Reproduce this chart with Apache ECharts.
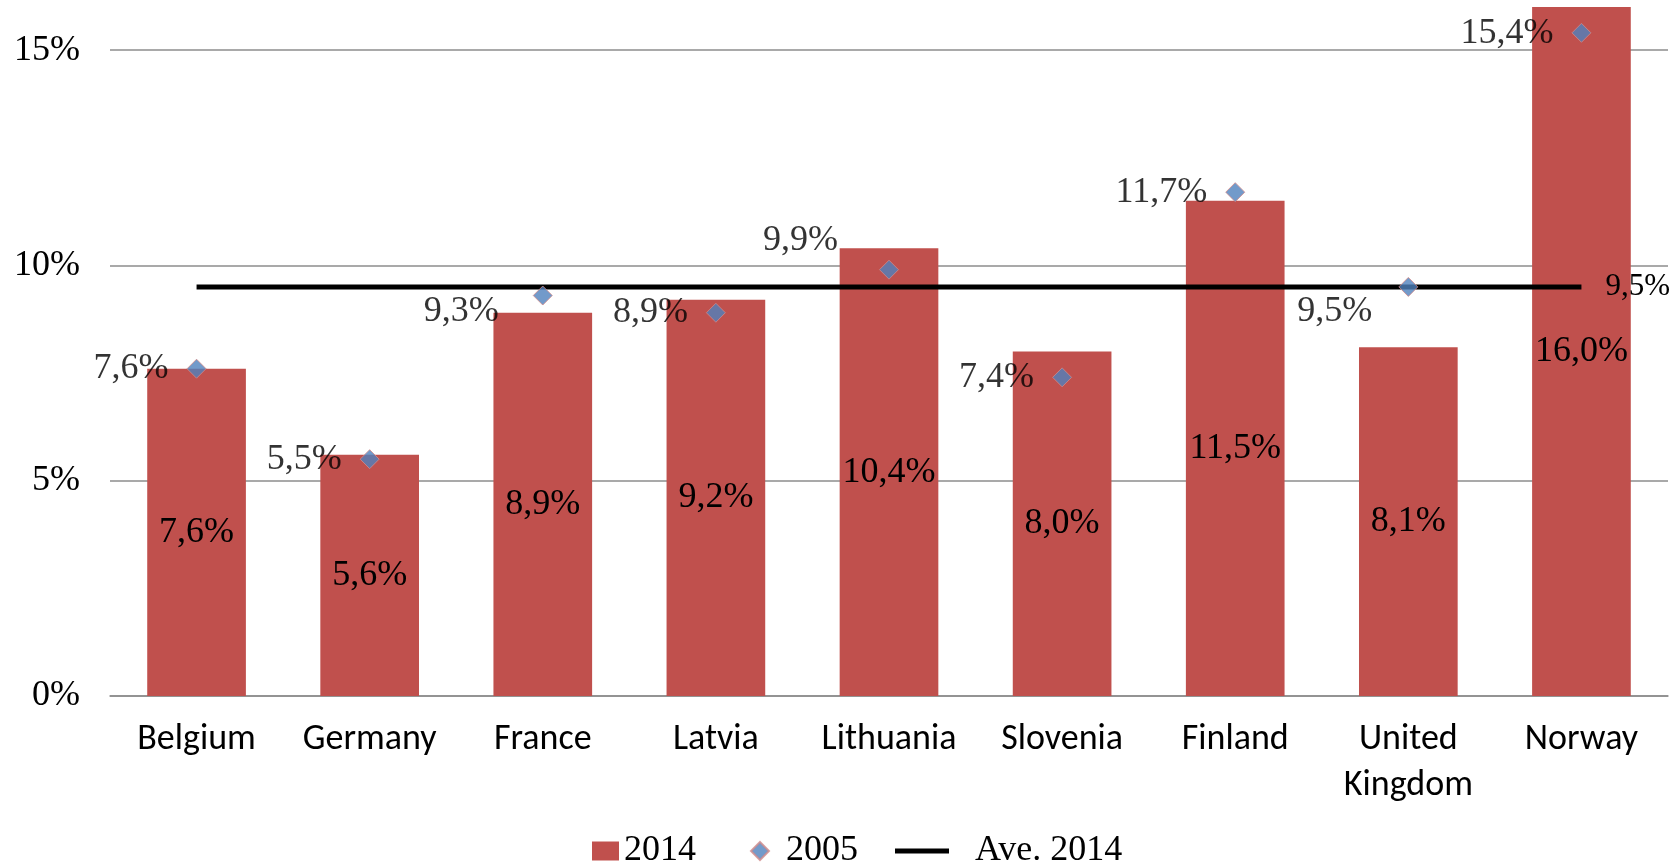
<!DOCTYPE html>
<html>
<head>
<meta charset="utf-8">
<script src="https://cdn.jsdelivr.net/npm/echarts@6/dist/echarts.min.js"></script>
<style>
html,body{margin:0;padding:0;background:#fff;}
#chart{width:1680px;height:862px;}
</style>
</head>
<body>
<div id="chart"></div>
<script>
const categories = ['Belgium','Germany','France','Latvia','Lithuania','Slovenia','Finland','United\nKingdom','Norway'];
const values2014 = [7.6, 5.6, 8.9, 9.2, 10.4, 8.0, 11.5, 8.1, 16.0];
const values2005 = [7.6, 5.5, 9.3, 8.9, 9.9, 7.4, 11.7, 9.5, 15.4];
const average2014 = [9.5, 9.5, 9.5, 9.5, 9.5, 9.5, 9.5, 9.5, 9.5];
const yTicks = [0, 5, 10, 15];

// label nudges for the 2005 labels (layout only)
const label2005Offsets = [[0,0],[0,0],[-16,16],[0,0],[-23,-29],[0,0],[0,0],[-8,25],[0,1]];

const serif = '"Liberation Serif","Times New Roman",serif';
const sans = 'Carlito, Lato, "Liberation Sans", sans-serif';
const fmt = v => v.toFixed(1).replace('.', ',') + '%';

const chart = echarts.init(document.getElementById('chart'), null, {renderer:'canvas'});

const legendText = {fontFamily: serif, fontSize: 36, color: '#000'};

chart.setOption({
  animation: false,
  backgroundColor: '#fff',
  grid: {left: 110, right: 12, top: 7, bottom: 166, containLabel: false},
  legend: [
    {data:[{name:'2014', icon:'rect'}], left: 587, top: 828, itemWidth: 27, itemHeight: 19,
     textStyle: Object.assign({padding:[0,0,0,0]}, legendText)},
    {data:[{name:'2005', icon:'diamond'}], left: 745, top: 828, itemWidth: 18, itemHeight: 18,
     textStyle: Object.assign({padding:[0,0,0,12]}, legendText)},
    {data:[{name:'Ave. 2014', icon:'rect'}], left: 890, top: 828, itemWidth: 54, itemHeight: 5,
     textStyle: Object.assign({padding:[0,0,0,21]}, legendText)}
  ],
  xAxis: {
    type: 'category',
    data: categories,
    boundaryGap: true,
    axisLine: {show: true, lineStyle: {color: '#8c8c8c', width: 1.5}},
    axisTick: {show: false},
    axisLabel: {fontFamily: sans, fontSize: 36, color: '#000', margin: 21, lineHeight: 46, interval: 0}
  },
  yAxis: {
    type: 'value',
    min: 0,
    max: 16,
    interval: 5,
    axisLine: {show: false},
    axisTick: {show: false},
    splitLine: {show: true, showMaxLine: false, lineStyle: {color: '#8c8c8c', width: 1.5}},
    axisLabel: {
      fontFamily: serif, fontSize: 36, color: '#000', margin: 30,
      showMaxLabel: false,
      formatter: v => (yTicks.indexOf(v) >= 0 ? v + '%' : '')
    }
  },
  series: [
    {
      name: '2014',
      type: 'bar',
      data: values2014,
      barWidth: '57%',
      itemStyle: {color: '#C0504D'},
      label: {show: true, position: 'inside', fontFamily: serif, fontSize: 36, color: '#000',
              formatter: p => fmt(p.value)},
      z: 2
    },
    {
      name: 'Ave. 2014',
      type: 'line',
      data: average2014,
      symbol: 'none',
      lineStyle: {color: '#000', width: 5},
      itemStyle: {color: '#000'},
      endLabel: {show: true, distance: 24, fontFamily: serif, fontSize: 31, color: '#000',
                 formatter: p => fmt(p.value)},
      z: 3
    },
    {
      name: '2005',
      type: 'scatter',
      symbol: 'diamond',
      symbolSize: 19,
      data: values2005.map((v, i) => ({
        value: v,
        label: {offset: label2005Offsets[i]}
      })),
      itemStyle: {color: '#4F81BD', borderColor: '#d08a8a', borderWidth: 1},
      label: {show: true, position: 'left', distance: 18, fontFamily: serif, fontSize: 36, color: '#000',
              formatter: p => fmt(p.value)},
      z: 4
    }
  ]
});
</script>
</body>
</html>
